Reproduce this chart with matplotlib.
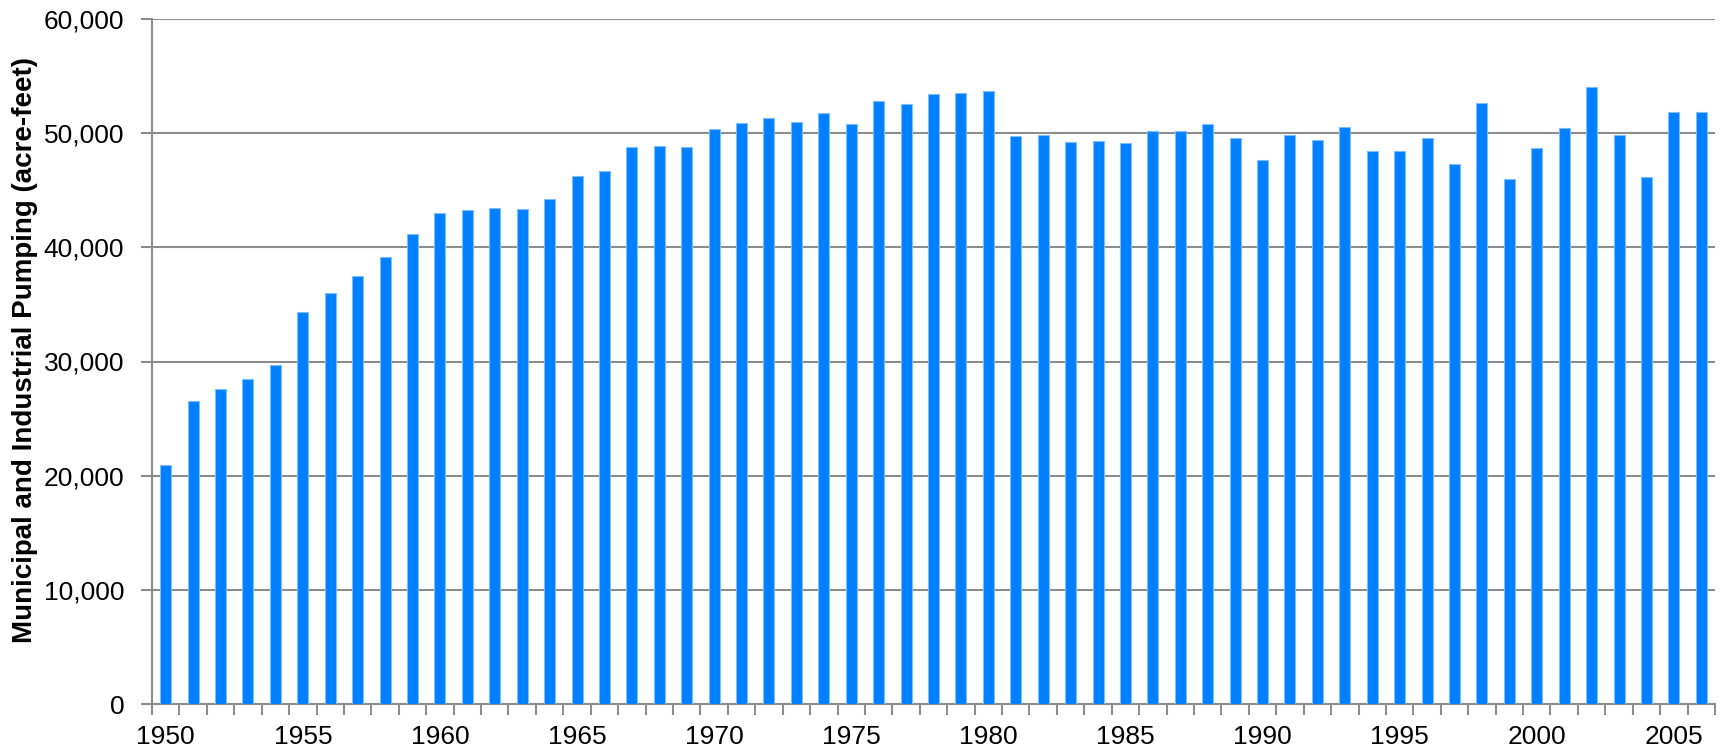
import matplotlib.pyplot as plt
import numpy as np
from matplotlib.ticker import FuncFormatter

plt.rcParams["font.family"] = ["Liberation Sans", "DejaVu Sans"]

years = list(range(1950, 2007))
pumping = [
    20970, 26520, 27600, 28450, 29710, 34360, 35990, 37460, 39120, 41200,
    43040, 43250, 43420, 43390, 44270, 46290, 46670, 48810, 48840, 48810,
    50380, 50930, 51300, 51010, 51770, 50840, 52840, 52550, 53390, 53510,
    53680, 49710, 49800, 49190, 49300, 49160, 50150, 50230, 50810, 49620,
    47620, 49800, 49420, 50550, 48410, 48460, 49540, 47330, 52640, 45970,
    48720, 50470, 54060, 49860, 46180, 51860, 51860,
]
y_ticks = [0, 10000, 20000, 30000, 40000, 50000, 60000]
label_years = list(range(1950, 2007, 5))

grid_color = "#8c8c8c"

fig = plt.figure(figsize=(17.27, 7.5), dpi=100)
ax = fig.add_axes([152 / 1727, 1 - 704 / 750, (1715 - 152) / 1727, (704 - 19) / 750])

x = np.arange(len(years))
ax.bar(x, pumping, width=0.4, color="#0080ff", edgecolor="#7cbcff",
       linewidth=0.8, zorder=3)

ax.set_xlim(-0.5, len(years) - 0.5)
ax.set_ylim(0, 60000)
ax.set_yticks(y_ticks)
ax.yaxis.set_major_formatter(FuncFormatter(lambda v, p: f"{int(v):,}"))
ax.grid(axis="y", color=grid_color, linewidth=1.5, zorder=0)
ax.set_axisbelow(True)

# category axis: ticks between bars, labels under every fifth year
ax.set_xticks(np.arange(-0.5, len(years), 1.0))
ax.set_xticklabels([])
ax.set_xticks([years.index(y) for y in label_years], minor=True)
ax.set_xticklabels([str(y) for y in label_years], minor=True)
ax.tick_params(axis="x", which="major", length=8, width=1.5, color=grid_color)
ax.tick_params(axis="x", which="minor", length=0, pad=15, labelsize=19)
ax.tick_params(axis="y", length=8, width=1.5, color=grid_color, labelsize=19, pad=12)

for side in ["top", "right"]:
    ax.spines[side].set_visible(False)
for side in ["left", "bottom"]:
    ax.spines[side].set_color(grid_color)
    ax.spines[side].set_linewidth(1.5)

fig.text(25 / 1727, 1 - 350 / 750, "Municipal and Industrial Pumping (acre-feet)",
         rotation=90, ha="center", va="center", fontsize=20, fontweight="bold")

fig.savefig("out.png", dpi=100)
